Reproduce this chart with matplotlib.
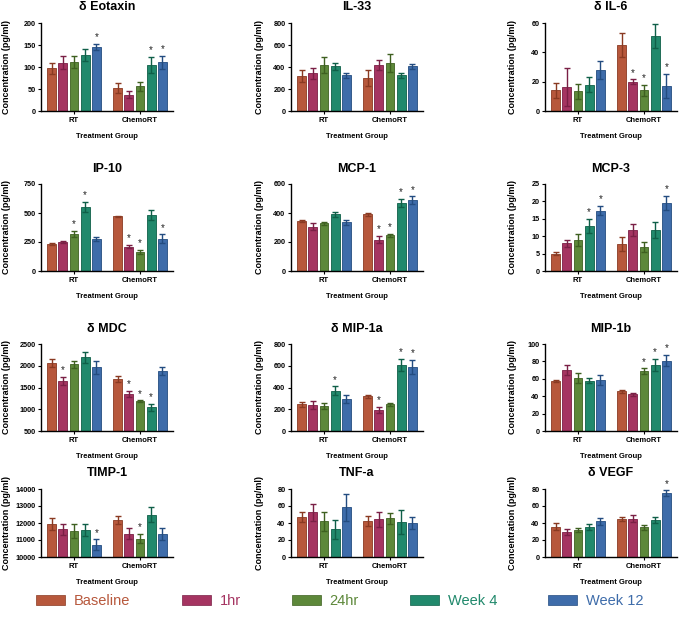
import numpy as np
import matplotlib
matplotlib.use("Agg")
import matplotlib.pyplot as plt
from matplotlib.patches import Patch

plt.rcParams['font.family'] = ['Liberation Sans', 'DejaVu Sans']

groups = ["RT", "ChemoRT"]
timepoints = ["Baseline", "1hr", "24hr", "Week 4", "Week 12"]
bar_colors = ["#B7583C", "#A53461", "#5D883A", "#21896C", "#3E6CAA"]
err_colors = ["#8A3A22", "#7A1F45", "#3E6020", "#0F5F48", "#234C80"]

# each panel: means[group][timepoint], sem[group][timepoint], stars as (group, timepoint)
titles = ["δ Eotaxin", "IL-33", "δ IL-6",
          "IP-10", "MCP-1", "MCP-3",
          "δ MDC", "δ MIP-1a", "MIP-1b",
          "TIMP-1", "TNF-a", "δ VEGF"]

eotaxin_mean = [[97, 110, 111, 127, 145], [52, 37, 56, 105, 111]]
eotaxin_err = [[13, 15, 13, 14, 7], [11, 8, 10, 18, 15]]
eotaxin_star = [(0, 4), (1, 3), (1, 4)]

il33_mean = [[320, 345, 420, 405, 325], [300, 420, 435, 325, 405]]
il33_err = [[55, 50, 75, 30, 25], [75, 45, 80, 25, 25]]
il33_star = []

il6_mean = [[14, 16.5, 13.5, 18, 28], [45, 20, 14, 51, 17]]
il6_err = [[5, 13, 5, 5, 6], [8, 1.5, 4, 8, 8]]
il6_star = [(1, 1), (1, 2), (1, 4)]

ip10_mean = [[230, 250, 320, 550, 275], [470, 210, 165, 485, 280]]
ip10_err = [[8, 10, 25, 45, 20], [8, 15, 15, 45, 35]]
ip10_star = [(0, 2), (0, 3), (1, 1), (1, 2), (1, 4)]

mcp1_mean = [[345, 305, 330, 390, 335], [390, 215, 245, 470, 490]]
mcp1_err = [[5, 25, 10, 15, 15], [12, 25, 12, 30, 25]]
mcp1_star = [(1, 1), (1, 2), (1, 3), (1, 4)]

mcp3_mean = [[5, 8, 8.8, 13, 17.3], [7.8, 11.8, 7, 11.8, 19.5]]
mcp3_err = [[0.5, 1, 1.7, 2, 1.3], [2, 1.6, 1.4, 2.4, 2]]
mcp3_star = [(0, 3), (0, 4), (1, 4)]

mdc_mean = [[2060, 1650, 2030, 2190, 1960], [1690, 1350, 1190, 1050, 1880]]
mdc_err = [[100, 90, 90, 120, 150], [70, 70, 15, 80, 100]]
mdc_star = [(0, 1), (1, 1), (1, 2), (1, 3)]

mip1a_mean = [[245, 240, 230, 370, 295], [320, 195, 245, 605, 590]]
mip1a_err = [[25, 40, 30, 40, 40], [15, 25, 12, 55, 65]]
mip1a_star = [(0, 3), (1, 1), (1, 3), (1, 4)]

mip1b_mean = [[57.5, 70, 61, 58, 58.5], [45.5, 42, 69, 75.5, 81]]
mip1b_err = [[1, 6, 5.5, 3, 5.5], [2, 2, 3, 7, 6.5]]
mip1b_star = [(1, 2), (1, 3), (1, 4)]

timp1_mean = [[11920, 11620, 11550, 11600, 10720], [12180, 11380, 11080, 12480, 11330]]
timp1_err = [[350, 340, 420, 360, 320], [220, 300, 280, 450, 350]]
timp1_star = [(0, 4), (1, 2)]

tnfa_mean = [[47, 52.5, 42, 32.5, 58.5], [42, 44.5, 45.5, 41, 39.5]]
tnfa_err = [[6, 10, 11, 11, 16], [6, 9, 6.5, 14, 7]]
tnfa_star = []

vegf_mean = [[35.5, 29.5, 32, 35.5, 42], [44.5, 45, 35, 44, 75]]
vegf_err = [[4, 4, 2.5, 3.5, 4], [2.5, 4, 3, 3.5, 3.5]]
vegf_star = [(1, 4)]

means = [eotaxin_mean, il33_mean, il6_mean, ip10_mean, mcp1_mean, mcp3_mean,
         mdc_mean, mip1a_mean, mip1b_mean, timp1_mean, tnfa_mean, vegf_mean]
errs = [eotaxin_err, il33_err, il6_err, ip10_err, mcp1_err, mcp3_err,
        mdc_err, mip1a_err, mip1b_err, timp1_err, tnfa_err, vegf_err]
stars = [eotaxin_star, il33_star, il6_star, ip10_star, mcp1_star, mcp3_star,
         mdc_star, mip1a_star, mip1b_star, timp1_star, tnfa_star, vegf_star]
yticks = [[0, 50, 100, 150, 200], [0, 200, 400, 600, 800], [0, 20, 40, 60],
          [0, 250, 500, 750], [0, 200, 400, 600], [0, 5, 10, 15, 20, 25],
          [500, 1000, 1500, 2000, 2500], [0, 200, 400, 600, 800], [0, 20, 40, 60, 80, 100],
          [10000, 11000, 12000, 13000, 14000], [0, 20, 40, 60, 80], [0, 20, 40, 60, 80]]

W, H = 680, 631
fig = plt.figure(figsize=(W / 100, H / 100), dpi=100)

# panel layout in pixels
col_left = [41, 291, 545]
ylabel_x = [11, 264, 517]   # right edge of the rotated y label
row_top = [23, 184, 344, 489]
row_h = [88, 87, 87, 68]
ax_w = 132

offsets = (np.arange(5) - 2) * 0.17
bw = 0.135

for i in range(12):
    r, c = divmod(i, 3)
    left = col_left[c] / W
    bottom = 1 - (row_top[r] + row_h[r]) / H
    ax = fig.add_axes([left, bottom, ax_w / W, row_h[r] / H])
    m = np.array(means[i], dtype=float)
    e = np.array(errs[i], dtype=float)
    lo, hi = yticks[i][0], yticks[i][-1]
    for g in range(2):
        for t in range(5):
            x = g + offsets[t]
            ax.bar(x, m[g][t], bw, color=bar_colors[t], edgecolor=err_colors[t],
                   linewidth=0.6, zorder=2)
            ax.errorbar(x, m[g][t], yerr=e[g][t], color=err_colors[t],
                        elinewidth=1.0, capsize=2.2, capthick=1.0, zorder=3)
    for g, t in stars[i]:
        ax.text(g + offsets[t], m[g][t] + e[g][t] + (hi - lo) * 0.02, "*",
                ha="center", va="bottom", fontsize=7, color="#222222")
    ax.set_xlim(-0.5, 1.5)
    ax.set_ylim(lo, hi)
    ax.set_yticks(yticks[i])
    ax.set_xticks([0, 1])
    ax.set_xticklabels(groups)
    for s in ["top", "right"]:
        ax.spines[s].set_visible(False)
    for s in ["left", "bottom"]:
        ax.spines[s].set_linewidth(1.0)
    ax.tick_params(direction="out", length=2.5, width=0.8, pad=1.5)
    ax.tick_params(axis="y", labelsize=5.2)
    ax.tick_params(axis="x", labelsize=5.5)
    for lab in ax.get_xticklabels() + ax.get_yticklabels():
        lab.set_fontweight("bold")
    ax.set_title(titles[i], fontsize=9, fontweight="bold", pad=9)
    ax.set_ylabel("Concentration (pg/ml)", fontsize=6.5, fontweight="bold")
    ax.yaxis.set_label_coords((ylabel_x[c] - col_left[c]) / ax_w, 0.5)
    ax.set_xlabel("Treatment Group", fontsize=5.5, fontweight="bold", labelpad=7)

handles = [Patch(facecolor=bar_colors[t], edgecolor=err_colors[t], linewidth=0.5)
           for t in range(5)]
leg = fig.legend(handles, timepoints, loc="center", bbox_to_anchor=(0.5, 1 - 601 / H),
                 ncol=5, frameon=False, fontsize=10.5, handlelength=2.0, handleheight=0.75,
                 handletextpad=0.6, columnspacing=3.5)
for txt, col in zip(leg.get_texts(), bar_colors):
    txt.set_color(col)

fig.savefig("out.png", dpi=100)
